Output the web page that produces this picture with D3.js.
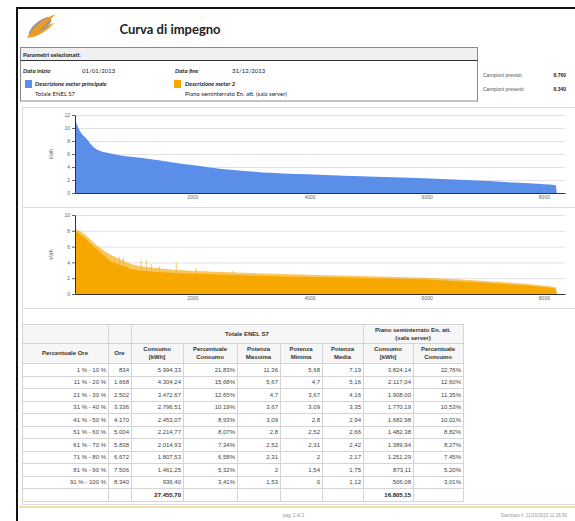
<!DOCTYPE html>
<html>
<head>
<meta charset="utf-8">
<script src="https://cdn.jsdelivr.net/npm/d3@7"></script>
<style>
  body { margin: 0; background: #fff; }
  svg { display: block; }
</style>
</head>
<body>
<div id="chart"></div>
<script>
// curva di durata meter principale: [ore, kWh]
var mainCurve = [[0, 11.4], [30, 10.6], [100, 9.3], [200, 8.3], [300, 7.2], [420, 6.5], [590, 6.1],
  [834, 5.7], [1000, 5.55], [1300, 5.2], [1668, 4.7], [2100, 4.2], [2502, 3.7], [2900, 3.4],
  [3336, 3.1], [4170, 2.8], [5004, 2.52], [5838, 2.31], [6672, 2.0], [7506, 1.6], [8000, 1.35],
  [8200, 1.2], [8220, 0]];
// meter 2, stesso ordinamento: livello di base e creste
var meter2Base = [[0, 8.0], [100, 7.5], [250, 6.5], [400, 5.5], [500, 4.8], [600, 4.2], [800, 3.6],
  [1000, 3.1], [1200, 2.9], [1500, 2.75], [2100, 2.55], [3150, 2.3], [4000, 2.15], [5000, 2.0],
  [6000, 1.85], [6900, 1.45], [7900, 0.95], [8190, 0.7], [8220, 0]];
var meter2Peaks = [[0, 8.3], [100, 7.9], [250, 7.0], [400, 6.0], [600, 5.0], [800, 4.3], [1000, 3.7],
  [1500, 3.2], [2000, 2.95], [2500, 2.8], [3000, 2.65], [4000, 2.45], [5000, 2.25], [6000, 2.05],
  [7000, 1.65], [8000, 1.05], [8200, 0.85], [8220, 0]];
var meter2Spikes = [[447, 5.5], [520, 4.9], [600, 4.9], [674, 4.7], [760, 4.7], [828, 4.6], [901, 3.6],
  [1130, 4.3], [1215, 4.3], [1300, 3.8], [1442, 3.5], [1727, 4.0], [2068, 3.3], [2239, 3.1], [2693, 3.0]];

var xTicks = [2000, 4000, 6000, 8000];
var yTicks1 = [0, 2, 4, 6, 8, 10, 12];
var yTicks2 = [0, 2, 4, 6, 8, 10];

// tabella
var fasce = ["1 % - 10 %", "11 % - 20 %", "21 % - 30 %", "31 % - 40 %", "41 % - 50 %", "51 % - 60 %",
  "61 % - 70 %", "71 % - 80 %", "81 % - 90 %", "91 % - 100 %"];
var ore = ["834", "1.668", "2.502", "3.336", "4.170", "5.004", "5.838", "6.672", "7.506", "8.340"];
var consumo1 = ["5.994,33", "4.304,24", "3.472,67", "2.796,51", "2.453,07", "2.214,77", "2.014,93",
  "1.807,53", "1.461,25", "936,40"];
var perc1 = ["21,83%", "15,68%", "12,65%", "10,19%", "8,93%", "8,07%", "7,34%", "6,58%", "5,32%", "3,41%"];
var potMax = ["11,36", "5,67", "4,7", "3,67", "3,09", "2,8", "2,52", "2,31", "2", "1,53"];
var potMin = ["5,68", "4,7", "3,67", "3,09", "2,8", "2,52", "2,31", "2", "1,54", "0"];
var potMedia = ["7,19", "5,16", "4,16", "3,35", "2,94", "2,66", "2,42", "2,17", "1,75", "1,12"];
var consumo2 = ["3.824,14", "2.117,04", "1.908,00", "1.770,19", "1.682,98", "1.482,38", "1.389,94",
  "1.251,29", "873,11", "506,08"];
var perc2 = ["22,76%", "12,60%", "11,35%", "10,53%", "10,01%", "8,82%", "8,27%", "7,45%", "5,20%", "3,01%"];
var totali = ["", "", "27.455,70", "", "", "", "", "16.805,15", ""];
var intestazioni = [["Percentuale  Ore"], ["Ore"], ["Consumo", "[kWh]"], ["Percentuale", "Consumo"],
  ["Potenza", "Massima"], ["Potenza", "Minima"], ["Potenza", "Media"], ["Consumo", "[kWh]"],
  ["Percentuale", "Consumo"]];

var blu = "#5b8ee8";
var arancio = "#f6a700";

render();

function render() {
  var W = 575, H = 521;
  var sans = "'Liberation Sans', Arial, sans-serif";
  var cal = "Lato, 'Open Sans', sans-serif";

  var svg = d3.select("#chart")
    .append("svg")
    .attr("width", W)
    .attr("height", H)
    .style("font-family", sans);

  // cornice
  svg.append("path")
    .attr("d", "M17,521 L17,8 L575,8")
    .attr("fill", "none")
    .attr("stroke", "#111")
    .attr("stroke-width", 2);

  // logo
  var logo = svg.append("g").attr("transform", "translate(40,27)");
  logo.append("ellipse")
    .attr("rx", 14).attr("ry", 5.5)
    .attr("transform", "rotate(-40)")
    .attr("fill", "#999");
  logo.append("path")
    .attr("d", "M-13,11 C-8,2 2,-8 16,-13 C8,-6 2,0 -2,6 C5,1 10,-3 14,-4 C8,3 -2,10 -13,11 Z")
    .attr("fill", "#f29a1f");

  svg.append("text")
    .attr("x", 170).attr("y", 34)
    .attr("text-anchor", "middle")
    .style("font-family", cal)
    .style("font-size", "13px")
    .style("font-weight", "bold")
    .attr("fill", "#222")
    .text("Curva di impegno");

  // parametri
  svg.append("rect")
    .attr("x", 20.5).attr("y", 47.5).attr("width", 457).attr("height", 13)
    .attr("fill", "#f0f0f0");
  svg.append("rect")
    .attr("x", 20.5).attr("y", 47.5).attr("width", 457).attr("height", 53.5)
    .attr("fill", "none").attr("stroke", "#8a8a8a");
  svg.append("line")
    .attr("x1", 20.5).attr("x2", 477.5).attr("y1", 60.5).attr("y2", 60.5)
    .attr("stroke", "#333").attr("stroke-width", 1.2);

  var par = svg.append("g").style("font-family", cal).style("font-size", "6px").attr("fill", "#222");
  par.append("text").attr("x", 23).attr("y", 57).style("font-weight", "bold").text("Parametri selezionati:");
  par.append("text").attr("x", 23).attr("y", 73).style("font-weight", "bold").style("font-style", "italic").text("Data inizio");
  par.append("text").attr("x", 82).attr("y", 73).text("01/01/2013");
  par.append("text").attr("x", 175).attr("y", 73).style("font-weight", "bold").style("font-style", "italic").text("Data fine");
  par.append("text").attr("x", 232).attr("y", 73).text("31/12/2013");
  par.append("rect").attr("x", 25).attr("y", 80).attr("width", 7).attr("height", 8).attr("fill", blu);
  par.append("rect").attr("x", 174).attr("y", 80).attr("width", 7).attr("height", 8).attr("fill", arancio);
  par.append("text").attr("x", 35).attr("y", 86).style("font-weight", "bold").style("font-style", "italic").text("Descrizione meter principale");
  par.append("text").attr("x", 185).attr("y", 86).style("font-weight", "bold").style("font-style", "italic").text("Descrizione meter 2");
  par.append("text").attr("x", 35).attr("y", 95.5).text("Totale ENEL S7");
  par.append("text").attr("x", 185).attr("y", 95.5).text("Piano seminterrato En. att. (sala server)");

  var camp = svg.append("g").style("font-size", "5px").attr("fill", "#555");
  camp.append("text").attr("x", 483).attr("y", 77).text("Campioni previsti:");
  camp.append("text").attr("x", 483).attr("y", 91).text("Campioni presenti:");
  camp.append("text").attr("x", 566).attr("y", 77).attr("text-anchor", "end").style("font-weight", "bold").attr("fill", "#222").text("8.760");
  camp.append("text").attr("x", 566).attr("y", 91).attr("text-anchor", "end").style("font-weight", "bold").attr("fill", "#222").text("8.340");

  // pannelli
  [[107, 100], [207, 101], [308, 196]].forEach(function (p) {
    svg.append("rect")
      .attr("x", 22.5).attr("y", p[0] + 0.5).attr("width", 570).attr("height", p[1])
      .attr("fill", "none").attr("stroke", "#dcdcdc");
  });

  var xScale = d3.scaleLinear().domain([0, 8360]).range([75, 565]);

  drawChart(d3.scaleLinear().domain([0, 12]).range([193, 115]), yTicks1, function (g, y) {
    g.append("path")
      .datum(mainCurve)
      .attr("fill", blu)
      .attr("d", d3.area()
        .x(function (d) { return xScale(d[0]); })
        .y0(y(0))
        .y1(function (d) { return y(d[1]); })
        .curve(d3.curveMonotoneX));
  });

  drawChart(d3.scaleLinear().domain([0, 10]).range([294, 215]), yTicks2, function (g, y) {
    var area = d3.area()
      .x(function (d) { return xScale(d[0]); })
      .y0(y(0))
      .y1(function (d) { return y(d[1]); })
      .curve(d3.curveMonotoneX);
    g.append("path").datum(meter2Peaks).attr("fill", "#f8b93a").attr("opacity", 0.8).attr("d", area);
    g.selectAll(".spike")
      .data(meter2Spikes)
      .enter().append("line")
      .attr("class", "spike")
      .attr("x1", function (d) { return xScale(d[0]); })
      .attr("x2", function (d) { return xScale(d[0]); })
      .attr("y1", y(0))
      .attr("y2", function (d) { return y(d[1]); })
      .attr("stroke", "#f7b840")
      .attr("stroke-width", 0.8);
    g.append("path").datum(meter2Base).attr("fill", arancio).attr("d", area);
  });

  function drawChart(yScale, ticks, marks) {
    var g = svg.append("g");
    g.selectAll(".grid")
      .data(ticks.filter(function (t) { return t > 0; }))
      .enter().append("line")
      .attr("x1", 75).attr("x2", 565)
      .attr("y1", function (d) { return yScale(d) + 0.5; })
      .attr("y2", function (d) { return yScale(d) + 0.5; })
      .attr("stroke", "#e2e2e2");

    marks(g, yScale);

    var y0 = yScale(0);
    g.append("g")
      .attr("transform", "translate(0," + y0 + ")")
      .call(d3.axisBottom(xScale).tickValues(xTicks).tickFormat(d3.format("d"))
        .tickSize(0).tickPadding(2).tickSizeOuter(0))
      .call(function (a) {
        a.select(".domain").attr("stroke", "#333");
        a.selectAll("text").style("font-size", "5px").attr("fill", "#666");
      });
    g.append("g")
      .attr("transform", "translate(75,0)")
      .call(d3.axisLeft(yScale).tickValues(ticks).tickSize(3).tickPadding(2).tickSizeOuter(0))
      .call(function (a) {
        a.select(".domain").attr("stroke", "#333");
        a.selectAll("line").attr("stroke", "#666");
        a.selectAll("text").style("font-size", "5px").attr("fill", "#666");
      });
    var mid = (yScale.range()[0] + yScale.range()[1]) / 2;
    g.append("text")
      .attr("transform", "translate(53," + mid + ") rotate(-90)")
      .attr("text-anchor", "middle")
      .style("font-size", "5px")
      .attr("fill", "#666")
      .text("kWh");
  }

  // tabella
  var colX = [22, 108, 131, 183, 237, 280, 322, 363, 413, 463];
  var tab = svg.append("g").style("font-size", "6px");
  var hTop = 324, h1 = 343, h2 = 363, rowH = 12.5;
  var righe = fasce.map(function (f, i) {
    return [f, ore[i], consumo1[i], perc1[i], potMax[i], potMin[i], potMedia[i], consumo2[i], perc2[i]];
  });
  var bottom = h2 + rowH * (righe.length + 1);

  tab.append("rect").attr("x", colX[0]).attr("y", hTop).attr("width", colX[9] - colX[0]).attr("height", h2 - hTop).attr("fill", "#f6f6f6");

  var grid = "#d4d4d4";
  [hTop, h1, h2].concat(d3.range(1, righe.length + 2).map(function (k) { return h2 + k * rowH; }))
    .forEach(function (yy) {
      tab.append("line").attr("x1", colX[0]).attr("x2", colX[9])
        .attr("y1", Math.round(yy) + 0.5).attr("y2", Math.round(yy) + 0.5).attr("stroke", grid);
    });
  colX.forEach(function (cx, i) {
    var yTop = (i === 3 || i === 4 || i === 5 || i === 6 || i === 8) ? h1 : hTop;
    tab.append("line").attr("x1", cx + 0.5).attr("x2", cx + 0.5)
      .attr("y1", yTop).attr("y2", Math.round(bottom) + 0.5).attr("stroke", grid);
  });

  tab.append("text").attr("x", (colX[2] + colX[7]) / 2).attr("y", 336)
    .attr("text-anchor", "middle").style("font-weight", "bold").attr("fill", "#333").text("Totale ENEL S7");
  tab.append("text").attr("x", (colX[7] + colX[9]) / 2).attr("y", 331.5)
    .attr("text-anchor", "middle").style("font-weight", "bold").attr("fill", "#333").text("Piano seminterrato En. att.");
  tab.append("text").attr("x", (colX[7] + colX[9]) / 2).attr("y", 339.5)
    .attr("text-anchor", "middle").style("font-weight", "bold").attr("fill", "#333").text("(sala server)");

  intestazioni.forEach(function (lines, i) {
    var cx = (colX[i] + colX[i + 1]) / 2;
    lines.forEach(function (t, k) {
      tab.append("text")
        .attr("x", cx)
        .attr("y", lines.length === 1 ? 355 : 351 + k * 8)
        .attr("text-anchor", "middle")
        .style("font-weight", "bold")
        .attr("fill", "#333")
        .text(t);
    });
  });

  righe.forEach(function (r, i) {
    r.forEach(function (v, j) {
      tab.append("text")
        .attr("x", colX[j + 1] - 2)
        .attr("y", h2 + i * rowH + 8.7)
        .attr("text-anchor", "end")
        .attr("fill", "#444")
        .text(v);
    });
  });
  totali.forEach(function (v, j) {
    if (!v) return;
    tab.append("text")
      .attr("x", colX[j + 1] - 2)
      .attr("y", h2 + righe.length * rowH + 8.7)
      .attr("text-anchor", "end")
      .style("font-weight", "bold")
      .attr("fill", "#222")
      .text(v);
  });

  // pie di pagina
  svg.append("line")
    .attr("x1", 19).attr("x2", 575).attr("y1", 507).attr("y2", 507)
    .attr("stroke", "#f2d48c").attr("stroke-width", 1.5);
  svg.append("text").attr("x", 283).attr("y", 516.5)
    .style("font-size", "4.5px").attr("fill", "#999").text("pag. 2 di 3");
  svg.append("text").attr("x", 567).attr("y", 516.5).attr("text-anchor", "end")
    .style("font-size", "4.5px").attr("fill", "#999").text("Stampato il: 21/10/2015 12.26.50");
}
</script>
</body>
</html>
